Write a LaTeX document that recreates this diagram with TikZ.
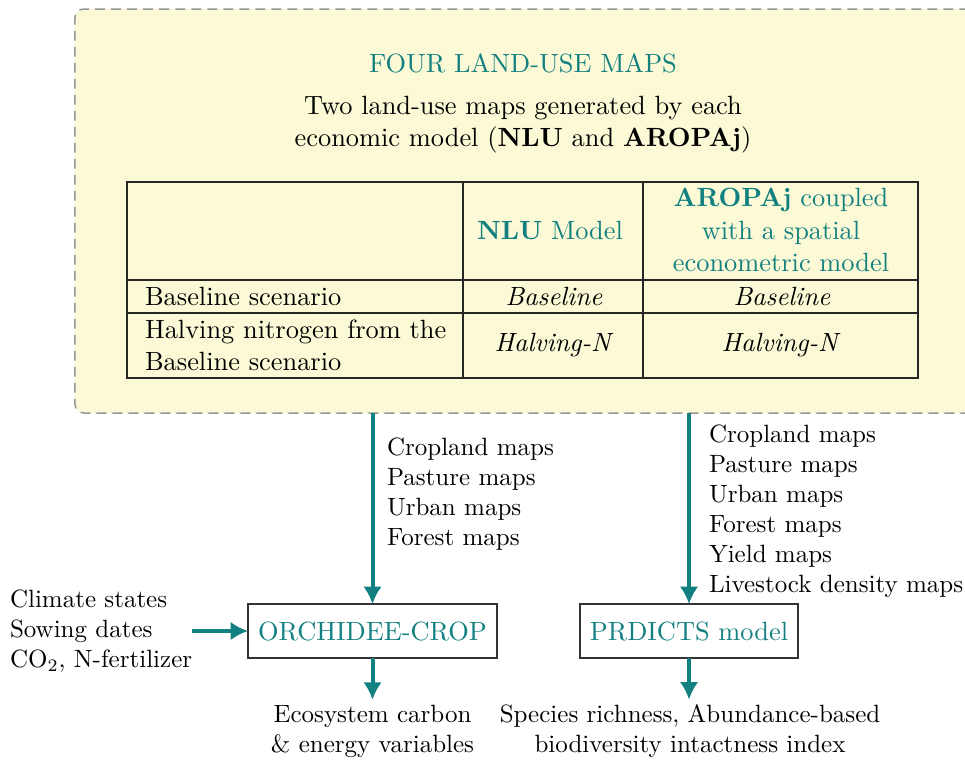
\documentclass[tikz,border=0pt]{standalone}
\usetikzlibrary{arrows.meta}
\definecolor{tealc}{RGB}{18,128,128}
\definecolor{boxfill}{RGB}{251,249,214}
\definecolor{dashgray}{RGB}{150,150,150}
\begin{document}
\begin{tikzpicture}[x=0.4pt,y=-0.4pt,
  every node/.style={inner sep=0pt, outer sep=0pt},
  big/.style={font=\fontsize{10.55}{12.9}\selectfont},
  tealtext/.style={text=tealc},
  mapsbox/.style={draw=dashgray, fill=boxfill, dash pattern=on 4pt off 2.4pt, line width=0.6pt, rounded corners=3.5pt},
  tableline/.style={draw=black!85, line width=0.7pt},
  modelbox/.style={draw=black!80, line width=0.6pt, text=tealc, minimum height=21.6pt, inner xsep=4pt, big},
  flow/.style={draw=tealc, line width=1.6pt, -{Latex[length=7pt,width=7.5pt]}},
  listtext/.style={align=left},
  outtext/.style={align=center}
]
\useasboundingbox (0,0) rectangle (965,762);

% yellow container
\node[mapsbox, minimum width=374pt, minimum height=161.6pt] (maps) at (542.5,211) {};

\node[tealtext, big] (title) at (523,63) {FOUR LAND-USE MAPS};
\node[align=center, big] (sub) at (523,124.5) {Two land-use maps generated by each\\economic model (\textbf{NLU} and \textbf{AROPAj})};

% table
\coordinate (tnw) at (127,182);
\coordinate (tse) at (918,378);
\draw[tableline] (tnw) rectangle (tse);
\draw[tableline] (463,182) -- (463,378);
\draw[tableline] (643,182) -- (643,378);
\draw[tableline] (127,280) -- (918,280);
\draw[tableline] (127,313) -- (918,313);

\node[tealtext, big] (hnlu) at (550,230) {\textbf{NLU} Model};
\node[tealtext, align=center, big] (harop) at (781,230) {\textbf{AROPAj} coupled\\with a spatial\\econometric model};
\node[anchor=west, big] (r1) at (145,296) {Baseline scenario};
\node[big] (r1a) at (554,296) {\textit{Baseline}};
\node[big] (r1b) at (782,296) {\textit{Baseline}};
\node[anchor=west, align=left, big] (r2) at (145,345) {Halving nitrogen from the\\Baseline scenario};
\node[big] (r2a) at (554,345) {\textit{Halving-N}};
\node[big] (r2b) at (781,345) {\textit{Halving-N}};

% model boxes
\node[modelbox, minimum width=99.6pt] (orch) at (372.5,631) {ORCHIDEE-CROP};
\node[modelbox, minimum width=87.2pt] (prd) at (689,631) {PRDICTS model};

% arrow labels
\node[listtext, anchor=west] (lab1) at (387,494.5) {Cropland maps\\Pasture maps\\Urban maps\\Forest maps};
\node[listtext, anchor=west] (lab2) at (709,511) {Cropland maps\\Pasture maps\\Urban maps\\Forest maps\\Yield maps\\Livestock density maps};

% inputs
\node[listtext, anchor=west] (inputs) at (10,631) {Climate states\\Sowing dates\\CO$_2$, N-fertilizer};

% outputs
\node[outtext, inner sep=2pt] (out1) at (372.5,731) {Ecosystem carbon\\\& energy variables};
\node[outtext, inner sep=2pt] (out2) at (690,731) {Species richness, Abundance-based\\biodiversity intactness index};

% connectors
\draw[flow] (orch.north |- maps.south) -- (orch.north);
\draw[flow] (prd.north |- maps.south) -- (prd.north);
\draw[flow] (inputs.east |- orch.west) -- (orch.west);
\draw[flow] (orch.south) -- (orch.south |- out1.north);
\draw[flow] (prd.south) -- (prd.south |- out2.north);
\end{tikzpicture}
\end{document}
